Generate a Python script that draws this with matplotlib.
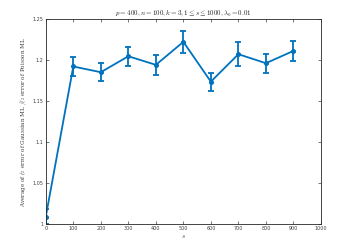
import matplotlib
matplotlib.use("Agg")
import matplotlib.pyplot as plt

s_vals = [0, 100, 200, 300, 400, 500, 600, 700, 800, 900]
ratio_mean = [1.009, 1.192, 1.185, 1.2045, 1.194, 1.222, 1.1735, 1.207, 1.196, 1.211]
ratio_err = [0.009, 0.0115, 0.011, 0.0115, 0.012, 0.0136, 0.011, 0.0146, 0.0117, 0.012]
x_ticks = [0, 100, 200, 300, 400, 500, 600, 700, 800, 900, 1000]
y_ticks = [1.0, 1.05, 1.1, 1.15, 1.2, 1.25]
y_tick_labels = ["1", "1.05", "1.1", "1.15", "1.2", "1.25"]

plt.rcParams['mathtext.fontset'] = 'cm'
fig = plt.figure(figsize=(3.55, 2.52), dpi=100)
ax = fig.add_axes([0.129, 0.111, 0.775, 0.814])
blue = '#0072BD'
ax.errorbar(s_vals, ratio_mean, yerr=ratio_err, color=blue, lw=1.3,
            marker='o', ms=2.6, capsize=2.4, capthick=1.3, elinewidth=1.3)
ax.set_xlim(0, 1000)
ax.set_ylim(1.0, 1.25)
ax.set_xticks(x_ticks)
ax.set_xticklabels([str(t) for t in x_ticks])
ax.set_yticks(y_ticks)
ax.set_yticklabels(y_tick_labels)
ax.tick_params(direction='in', length=2.5, width=0.5, labelsize=3.5, colors='#404040',
               top=True, right=True, pad=1.5)
for sp in ax.spines.values():
    sp.set_linewidth(0.6)
    sp.set_color('#262626')
ax.set_title(r'$p = 400, n = 100, k = 3, 1 \leq s \leq 1000, \lambda_0 = 0.01$',
             fontsize=5, pad=3, color='#262626')
ax.set_xlabel(r'$s$', fontsize=5, labelpad=1, color='#404040')
ax.set_ylabel(r'Average of $\ell_2$ error of Gaussian ML $/\ell_2$ error of Poisson ML',
              fontsize=4.1, family='serif', labelpad=3, color='#404040')
fig.savefig('out.png', dpi=100)
